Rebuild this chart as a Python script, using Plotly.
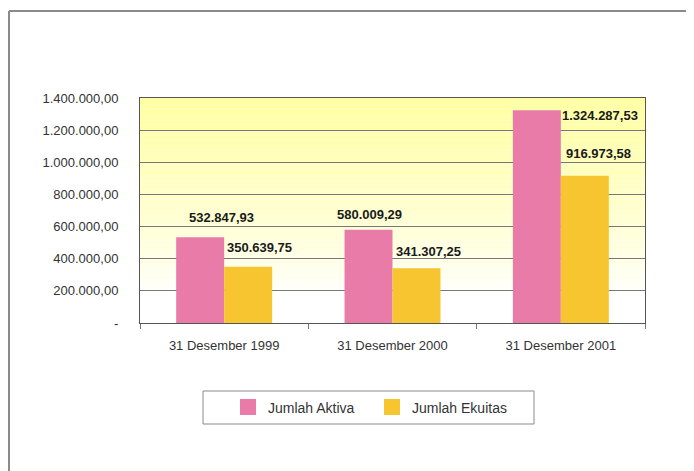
import plotly.graph_objects as go

categories = ["31 Desember 1999", "31 Desember 2000", "31 Desember 2001"]
aktiva = [532847.93, 580009.29, 1324287.53]
ekuitas = [350639.75, 341307.25, 916973.58]
aktiva_labels = ["532.847,93", "580.009,29", "1.324.287,53"]
ekuitas_labels = ["350.639,75", "341.307,25", "916.973,58"]
y_tickvals = [0, 200000, 400000, 600000, 800000, 1000000, 1200000, 1400000]
y_ticktext = ["-", "200.000,00", "400.000,00", "600.000,00", "800.000,00",
              "1.000.000,00", "1.200.000,00", "1.400.000,00"]

PINK = "#E97BA8"
GOLD = "#F6C530"
FONT = "Liberation Sans, Arial, sans-serif"

W, H = 694, 471
OX, OY = 8, 8  # page body offset
PL, PR, PT, PB = 140, 645, 98, 323  # plot area in window px
ML, MR, MT, MB = PL - OX, W - (PR - OX), PT - OY, H - (PB - OY)
PW, PH = PR - PL, PB - PT


def px_x(x):
    return (x - PL) / PW


def px_y(y):
    return (PB - y) / PH


fig = go.Figure()
fig.add_trace(go.Bar(name="Jumlah Aktiva", x=categories, y=aktiva, showlegend=False,
                     marker=dict(color=PINK, line=dict(width=0))))
fig.add_trace(go.Bar(name="Jumlah Ekuitas", x=categories, y=ekuitas, showlegend=False,
                     marker=dict(color=GOLD, line=dict(width=0))))
# legend entries with larger square swatches
for name, col in [("Jumlah Aktiva", PINK), ("Jumlah Ekuitas", GOLD)]:
    fig.add_trace(go.Scatter(name=name, x=[None], y=[None], mode="markers",
                             marker=dict(symbol="square", size=16, color=col),
                             hoverinfo="skip"))

# gradient plot background (pale yellow top -> white bottom)
shapes = []
n = 60
for i in range(n):
    f0 = i / n
    f1 = (i + 1) / n
    t = max(0.0, (f0 - 0.12) / 0.88)
    t = min(1.0, t) ** 0.8
    r, g, b = 255, 255, int(round(255 - t * (255 - 160)))
    shapes.append(dict(type="rect", xref="x domain", yref="y domain",
                       x0=0, x1=1, y0=f0, y1=f1, layer="below",
                       line=dict(width=0), fillcolor=f"rgb({r},{g},{b})"))
# outer frame
shapes.append(dict(type="line", xref="paper", yref="paper", x0=px_x(9), x1=px_x(700),
                   y0=px_y(11), y1=px_y(11), line=dict(color="#8a8a8a", width=2)))
shapes.append(dict(type="line", xref="paper", yref="paper", x0=px_x(9), x1=px_x(9),
                   y0=px_y(11), y1=px_y(480), line=dict(color="#8a8a8a", width=2)))
# legend box
shapes.append(dict(type="rect", xref="paper", yref="paper", x0=px_x(203), x1=px_x(534),
                   y0=px_y(391), y1=px_y(424), line=dict(color="#8a8a8a", width=1),
                   fillcolor="white", layer="below"))

annotations = []
a_shifts = [(21, 20), (1, 15), (63, -5)]
e_shifts = [(11, 19), (12, 17), (14, 22)]
for i, c in enumerate(categories):
    xs, ys = a_shifts[i]
    annotations.append(dict(x=c, y=aktiva[i], xref="x", yref="y",
                            text="<b>" + aktiva_labels[i] + "</b>",
                            showarrow=False, xshift=-24 + xs, yshift=ys,
                            font=dict(family=FONT, size=13, color="#1a1a1a"),
                            xanchor="center", yanchor="middle"))
    xs, ys = e_shifts[i]
    annotations.append(dict(x=c, y=ekuitas[i], xref="x", yref="y",
                            text="<b>" + ekuitas_labels[i] + "</b>",
                            showarrow=False, xshift=24 + xs, yshift=ys,
                            font=dict(family=FONT, size=13, color="#1a1a1a"),
                            xanchor="center", yanchor="middle"))

fig.update_layout(
    width=W, height=H,
    margin=dict(l=ML, r=MR, t=MT, b=MB),
    paper_bgcolor="white", plot_bgcolor="white",
    barmode="group", bargap=0.43, bargroupgap=0,
    font=dict(family=FONT, size=13, color="#333333"),
    shapes=shapes, annotations=annotations,
    showlegend=True,
    legend=dict(orientation="h", xref="paper", yref="paper",
                x=px_x(228), y=px_y(407.5), xanchor="left", yanchor="middle",
                borderwidth=0, bgcolor="rgba(0,0,0,0)",
                font=dict(family=FONT, size=14, color="#333333"),
                entrywidth=99, itemsizing="trace"),
)
fig.update_xaxes(showline=True, linecolor="#555555", linewidth=1, mirror=True,
                 ticks="outside", tickson="boundaries", ticklen=5, tickcolor="#777777",
                 showgrid=False, ticklabelstandoff=10,
                 tickfont=dict(family=FONT, size=13, color="#333333"))
fig.update_yaxes(range=[0, 1400000], tickvals=y_tickvals, ticktext=y_ticktext,
                 showline=True, linecolor="#555555", linewidth=1, mirror=True,
                 showgrid=True, gridcolor="#777777", gridwidth=1,
                 ticks="", ticklabelstandoff=18, zeroline=False,
                 tickfont=dict(family=FONT, size=13, color="#333333"))

fig.write_html("out.html")
